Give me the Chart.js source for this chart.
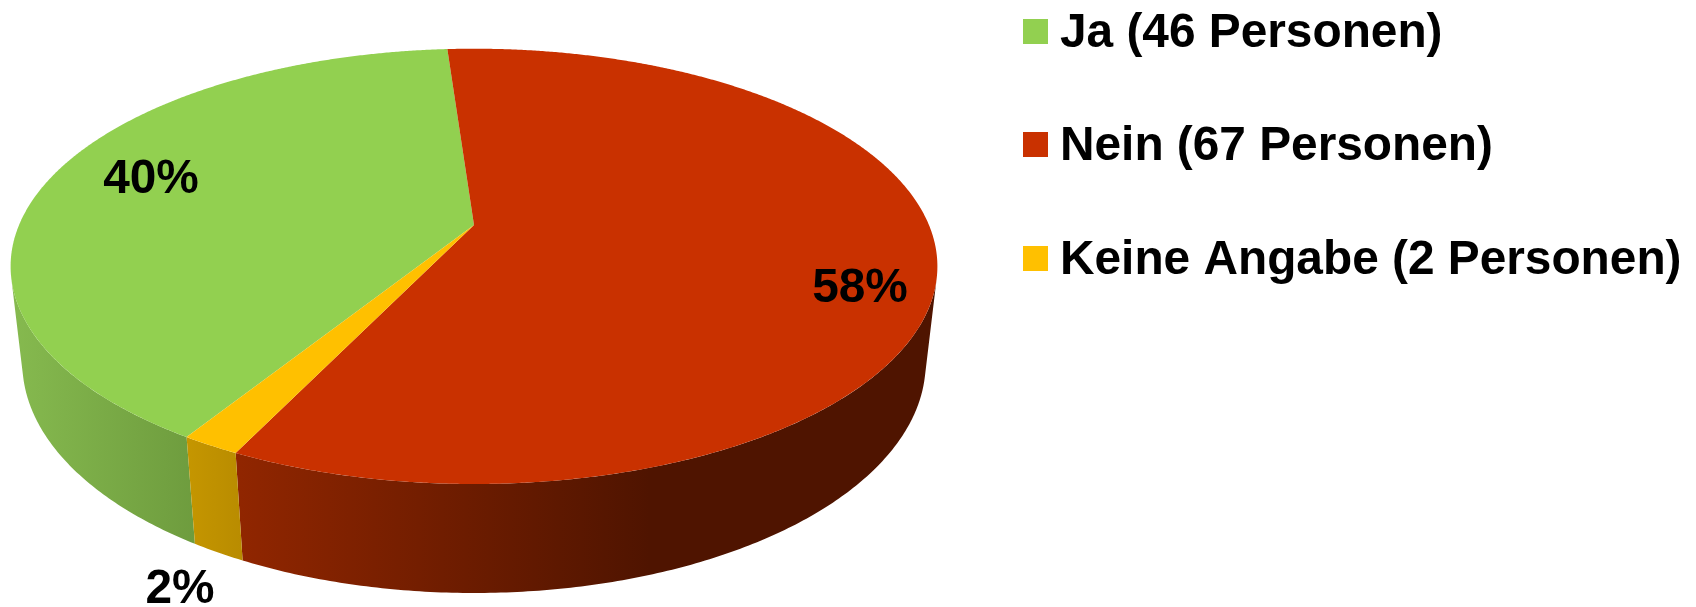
<!DOCTYPE html>
<html>
<head>
<meta charset="utf-8">
<title>Umfrage</title>
<script src="https://cdn.jsdelivr.net/npm/chart.js@4"></script>
<style>
    html, body { margin: 0; background: #fff; }
    canvas { display: block; }
</style>
</head>
<body>
<canvas id="chart" width="1696" height="607"></canvas>
<script>
var categories = ["Ja", "Nein", "Keine Angabe"];
var personen = [46, 67, 2];
var unit = "Personen";

var topColors = ["#92d050", "#c93100", "#ffc000"];
// side wall shading per slice: [x from, x to, colour from, colour to]
var sideShades = [
    [10, 195, "#86ba4f", "#6e9c3e"],
    [235, 650, "#912600", "#4f1400"],
    [187, 241, "#c59600", "#b98c00"]
];
var labelFont = "bold 47.8px 'Liberation Sans', Arial, sans-serif";
// text baselines
var labelSpots = [[151, 193], [860, 302], [180, 603]];
var legendSpots = [[1023, 19], [1023, 132], [1023, 246]];

// perspective of the tilted disc, in units of the pie radius
var persp = { b: 2.022, a: 0.9324, c: 0.4333, k: -0.19, m: 0.025 };

function project(arc, theta, depth) {
    var R = arc.outerRadius;
    var u = Math.cos(theta), v = Math.sin(theta);
    var w = 1 + persp.k * v + persp.m * depth;
    return {
        x: arc.x + persp.b * R * u / w,
        y: arc.y + (persp.a * R * v + persp.c * R * depth) / w
    };
}

function drawSide(ctx, arc, shade) {
    var grad = ctx.createLinearGradient(shade[0], 0, shade[1], 0);
    grad.addColorStop(0, shade[2]);
    grad.addColorStop(1, shade[3]);
    ctx.fillStyle = grad;
    var steps = Math.ceil((arc.endAngle - arc.startAngle) / 0.01);
    // all quads go in one path so no seams show between them
    ctx.beginPath();
    for (var i = 0; i < steps; i++) {
        var t0 = arc.startAngle + (arc.endAngle - arc.startAngle) * i / steps;
        var t1 = arc.startAngle + (arc.endAngle - arc.startAngle) * (i + 1) / steps;
        var a = project(arc, t0, 0), b = project(arc, t1, 0);
        var c = project(arc, t1, 1), d = project(arc, t0, 1);
        // walls turned away from the viewer are skipped
        if ((b.x - a.x) * (d.y - a.y) - (b.y - a.y) * (d.x - a.x) > 0) continue;
        ctx.moveTo(a.x, a.y);
        ctx.lineTo(b.x, b.y);
        ctx.lineTo(c.x, c.y);
        ctx.lineTo(d.x, d.y);
        ctx.closePath();
    }
    ctx.fill();
}

function drawTop(ctx, arc, color) {
    var steps = Math.ceil((arc.endAngle - arc.startAngle) / 0.005);
    ctx.fillStyle = color;
    ctx.beginPath();
    ctx.moveTo(arc.x, arc.y);
    for (var i = 0; i <= steps; i++) {
        var p = project(arc, arc.startAngle + (arc.endAngle - arc.startAngle) * i / steps, 0);
        ctx.lineTo(p.x, p.y);
    }
    ctx.closePath();
    ctx.fill();
}

var tiltedPie = {
    id: "tiltedPie",
    beforeDatasetDraw: function (chart, args) {
        var ctx = chart.ctx;
        var arcs = args.meta.data;
        ctx.save();
        arcs.forEach(function (arc, i) { drawSide(ctx, arc, sideShades[i]); });
        arcs.forEach(function (arc, i) { drawTop(ctx, arc, topColors[i]); });
        ctx.restore();
        return false;
    },
    afterDatasetsDraw: function (chart) {
        var ctx = chart.ctx;
        var total = personen.reduce(function (s, n) { return s + n; }, 0);
        ctx.save();
        ctx.font = labelFont;
        ctx.fillStyle = "#000";
        ctx.textBaseline = "alphabetic";

        ctx.textAlign = "center";
        personen.forEach(function (n, i) {
            ctx.fillText(Math.round(n / total * 100) + "%", labelSpots[i][0], labelSpots[i][1]);
        });

        ctx.textAlign = "left";
        categories.forEach(function (name, i) {
            var spot = legendSpots[i];
            ctx.fillStyle = topColors[i];
            ctx.fillRect(spot[0], spot[1], 25, 25);
            ctx.fillStyle = "#000";
            ctx.fillText(name + " (" + personen[i] + " " + unit + ")", spot[0] + 37, spot[1] + 28);
        });
        ctx.restore();
    }
};

new Chart(document.getElementById("chart").getContext("2d"), {
    type: "pie",
    data: {
        labels: categories,
        datasets: [{
            data: personen,
            backgroundColor: topColors,
            borderWidth: 0
        }]
    },
    options: {
        responsive: false,
        animation: false,
        rotation: 212,
        layout: { padding: { left: 0, right: 748, top: 0, bottom: 157 } },
        plugins: {
            legend: { display: false },
            tooltip: { enabled: false }
        }
    },
    plugins: [tiltedPie]
});
</script>
</body>
</html>
